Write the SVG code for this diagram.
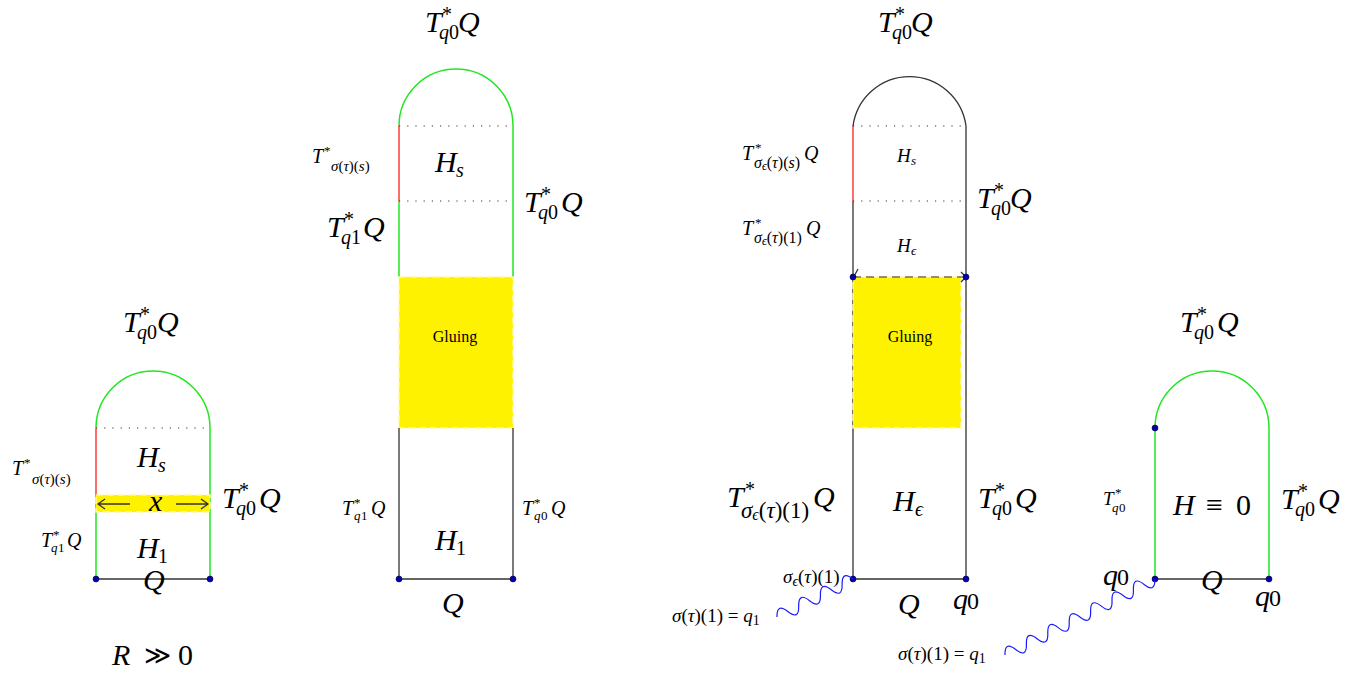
<svg xmlns="http://www.w3.org/2000/svg" width="1370" height="674" viewBox="0 0 1370 674">
<style>
.l{fill:none;stroke:#333;stroke-width:1.3}
.g{fill:none;stroke:#22e622;stroke-width:1.5}
.r{fill:none;stroke:#ff3b3b;stroke-width:1.5}
.dt{fill:none;stroke:#333;stroke-width:1.2;stroke-dasharray:1.2 7}
.y{fill:#fff200;stroke:#fff8a8;stroke-width:1.5;stroke-dasharray:7 4}
.pt{fill:#0000b0;stroke:#000030;stroke-width:0.6}
.w{fill:none;stroke:#1a1aff;stroke-width:1.2}
text{font-family:"Liberation Serif","DejaVu Serif",serif;fill:#000}
.i{font-style:italic}
.u{font-style:normal}
</style>

<!-- Panel 1 -->
<g id="panel1">
  <path class="g" d="M96,428 A57,57 0 0 1 210,428 L210,579"/>
  <path class="r" d="M96,428 L96,495"/>
  <path class="g" d="M96,495 L96,579"/>
  <line class="dt" x1="96" y1="428" x2="210" y2="428"/>
  <rect class="y" x="96" y="495" width="114" height="17"/>
  <path class="l" d="M98,504 L130,504 M105,499 L98,504 L105,509 M176,504 L208,504 M201,499 L208,504 L201,509"/>
  <line class="l" x1="96" y1="579" x2="210" y2="579"/>
  <circle class="pt" cx="96" cy="579" r="3"/>
  <circle class="pt" cx="210" cy="579" r="3"/>
  <text class="i" font-size="30"><tspan x="123" y="332">T</tspan><tspan class="u" x="140" y="321" font-size="20">*</tspan><tspan x="137" y="339" font-size="20">q</tspan><tspan class="u" x="147" y="339" font-size="20">0</tspan><tspan x="157" y="332">Q</tspan></text>
  <text class="i" font-size="30"><tspan x="137" y="467">H</tspan><tspan x="158" y="472" font-size="20">s</tspan></text>
  <text class="i" font-size="20"><tspan x="12" y="475">T</tspan><tspan class="u" x="24" y="467" font-size="13">*</tspan><tspan x="32" y="484" font-size="15">σ</tspan><tspan class="u" font-size="15">(</tspan><tspan font-size="15">τ</tspan><tspan class="u" font-size="15">)(</tspan><tspan font-size="15">s</tspan><tspan class="u" font-size="15">)</tspan></text>
  <text class="i" font-size="30" x="149" y="511">x</text>
  <text class="i" font-size="30"><tspan x="222" y="508">T</tspan><tspan class="u" x="239" y="497" font-size="20">*</tspan><tspan x="236" y="515" font-size="20">q</tspan><tspan class="u" x="246" y="515" font-size="20">0</tspan><tspan x="259" y="508">Q</tspan></text>
  <text class="i" font-size="20"><tspan x="41" y="547">T</tspan><tspan class="u" x="53" y="539" font-size="13">*</tspan><tspan x="51" y="552" font-size="13">q</tspan><tspan class="u" x="58" y="552" font-size="13">1</tspan><tspan x="67" y="547">Q</tspan></text>
  <text class="i" font-size="30"><tspan x="137" y="558">H</tspan><tspan class="u" x="158" y="563" font-size="20">1</tspan></text>
  <text class="i" font-size="30" x="143" y="590">Q</text>
  <text font-size="30"><tspan class="i" x="112" y="665">R</tspan><tspan x="144" y="664" font-size="26">≫</tspan><tspan x="178" y="665">0</tspan></text>
</g>

<!-- Panel 2 -->
<g id="panel2">
  <path class="g" d="M399,126 A57,57 0 0 1 513,126 L513,277"/>
  <path class="r" d="M399,126 L399,201"/>
  <path class="g" d="M399,201 L399,277"/>
  <line class="dt" x1="399" y1="126" x2="513" y2="126"/>
  <line class="dt" x1="399" y1="201" x2="513" y2="201"/>
  <rect class="y" x="399" y="277" width="114" height="151"/>
  <path class="l" d="M399,428 L399,579 L513,579 L513,428"/>
  <circle class="pt" cx="399" cy="579" r="3"/>
  <circle class="pt" cx="513" cy="579" r="3"/>
  <text class="i" font-size="30"><tspan x="425" y="32">T</tspan><tspan class="u" x="442" y="21" font-size="20">*</tspan><tspan x="439" y="39" font-size="20">q</tspan><tspan class="u" x="449" y="39" font-size="20">0</tspan><tspan x="458" y="32">Q</tspan></text>
  <text class="i" font-size="20"><tspan x="312" y="163">T</tspan><tspan class="u" x="324" y="155" font-size="13">*</tspan><tspan x="331" y="171" font-size="15">σ</tspan><tspan class="u" font-size="15">(</tspan><tspan font-size="15">τ</tspan><tspan class="u" font-size="15">)(</tspan><tspan font-size="15">s</tspan><tspan class="u" font-size="15">)</tspan></text>
  <text class="i" font-size="30"><tspan x="435" y="172">H</tspan><tspan x="456" y="177" font-size="20">s</tspan></text>
  <text class="i" font-size="30"><tspan x="524" y="212">T</tspan><tspan class="u" x="541" y="201" font-size="20">*</tspan><tspan x="538" y="219" font-size="20">q</tspan><tspan class="u" x="548" y="219" font-size="20">0</tspan><tspan x="561" y="212">Q</tspan></text>
  <text class="i" font-size="30"><tspan x="327" y="237">T</tspan><tspan class="u" x="344" y="226" font-size="20">*</tspan><tspan x="341" y="244" font-size="20">q</tspan><tspan class="u" x="351" y="244" font-size="20">1</tspan><tspan x="363" y="237">Q</tspan></text>
  <text font-size="16" x="455" y="342" text-anchor="middle">Gluing</text>
  <text class="i" font-size="20"><tspan x="342" y="515">T</tspan><tspan class="u" x="354" y="507" font-size="13">*</tspan><tspan x="354" y="520" font-size="13">q</tspan><tspan class="u" x="361" y="520" font-size="13">1</tspan><tspan x="371" y="515">Q</tspan></text>
  <text class="i" font-size="20"><tspan x="522" y="515">T</tspan><tspan class="u" x="534" y="507" font-size="13">*</tspan><tspan x="534" y="520" font-size="13">q</tspan><tspan class="u" x="541" y="520" font-size="13">0</tspan><tspan x="551" y="515">Q</tspan></text>
  <text class="i" font-size="30"><tspan x="435" y="550">H</tspan><tspan class="u" x="456" y="555" font-size="20">1</tspan></text>
  <text class="i" font-size="30" x="442" y="613">Q</text>
</g>

<!-- Panel 3 -->
<g id="panel3">
  <path class="l" d="M853,126 A57,57 0 0 1 966,126 L966,579 L853,579 L853,201"/>
  <path class="r" d="M853,126 L853,201"/>
  <line class="dt" x1="853" y1="126" x2="966" y2="126"/>
  <line class="dt" x1="853" y1="201" x2="966" y2="201"/>
  <rect class="y" x="853" y="277" width="108" height="151"/>
  <line class="l" x1="853" y1="277" x2="966" y2="277" stroke-dasharray="8 5" stroke-opacity="0.7"/>
  <path class="l" d="M858,269 Q855,275 853,277 M961,272 L966,277 L961,282"/>
  <circle class="pt" cx="853" cy="277" r="3"/>
  <circle class="pt" cx="966" cy="277" r="3"/>
  <circle class="pt" cx="853" cy="579" r="3"/>
  <circle class="pt" cx="966" cy="579" r="3"/>
  <text class="i" font-size="30"><tspan x="878" y="32">T</tspan><tspan class="u" x="895" y="21" font-size="20">*</tspan><tspan x="892" y="39" font-size="20">q</tspan><tspan class="u" x="902" y="39" font-size="20">0</tspan><tspan x="911" y="32">Q</tspan></text>
  <text class="i" font-size="20"><tspan x="742" y="160">T</tspan><tspan class="u" x="755" y="152" font-size="13">*</tspan><tspan x="754" y="168" font-size="16">σ</tspan><tspan font-size="12" dy="2">ϵ</tspan><tspan class="u" font-size="16" dy="-2">(</tspan><tspan font-size="16">τ</tspan><tspan class="u" font-size="16">)(</tspan><tspan font-size="16">s</tspan><tspan class="u" font-size="16">)</tspan><tspan x="804" y="160">Q</tspan></text>
  <text class="i" font-size="19"><tspan x="897" y="162">H</tspan><tspan x="911" y="165" font-size="13">s</tspan></text>
  <text class="i" font-size="30"><tspan x="977" y="208">T</tspan><tspan class="u" x="994" y="197" font-size="20">*</tspan><tspan x="991" y="215" font-size="20">q</tspan><tspan class="u" x="1001" y="215" font-size="20">0</tspan><tspan x="1010" y="208">Q</tspan></text>
  <text class="i" font-size="20"><tspan x="742" y="235">T</tspan><tspan class="u" x="755" y="227" font-size="13">*</tspan><tspan x="754" y="243" font-size="16">σ</tspan><tspan font-size="12" dy="2">ϵ</tspan><tspan class="u" font-size="16" dy="-2">(</tspan><tspan font-size="16">τ</tspan><tspan class="u" font-size="16">)(1)</tspan><tspan x="806" y="235">Q</tspan></text>
  <text class="i" font-size="19"><tspan x="897" y="252">H</tspan><tspan x="911" y="255" font-size="13">ϵ</tspan></text>
  <text font-size="16" x="910" y="342" text-anchor="middle">Gluing</text>
  <text class="i" font-size="30"><tspan x="727" y="507">T</tspan><tspan class="u" x="745" y="496" font-size="20">*</tspan><tspan x="741" y="518" font-size="23">σ</tspan><tspan font-size="16" dy="2">ϵ</tspan><tspan class="u" font-size="23" dy="-2">(</tspan><tspan font-size="23">τ</tspan><tspan class="u" font-size="23">)(1)</tspan><tspan x="813" y="507">Q</tspan></text>
  <text class="i" font-size="30"><tspan x="893" y="511">H</tspan><tspan x="915" y="516" font-size="20">ϵ</tspan></text>
  <text class="i" font-size="30"><tspan x="978" y="508">T</tspan><tspan class="u" x="995" y="497" font-size="20">*</tspan><tspan x="992" y="515" font-size="20">q</tspan><tspan class="u" x="1002" y="515" font-size="20">0</tspan><tspan x="1015" y="508">Q</tspan></text>
  <text class="i" font-size="19"><tspan x="783" y="583">σ</tspan><tspan font-size="14" dy="3">ϵ</tspan><tspan class="u" dy="-3">(</tspan><tspan>τ</tspan><tspan class="u">)(1)</tspan></text>
  <text class="i" font-size="30" x="898" y="614">Q</text>
  <text class="i" font-size="30"><tspan x="953" y="609">q</tspan><tspan class="u" x="967" y="609" font-size="24">0</tspan></text>
  <text class="i" font-size="19"><tspan x="672" y="622">σ</tspan><tspan class="u">(</tspan><tspan>τ</tspan><tspan class="u">)(1) = </tspan><tspan>q</tspan><tspan class="u" font-size="14" dy="3">1</tspan></text>
</g>

<!-- Panel 4 -->
<g id="panel4">
  <path class="g" d="M1155,579 L1155,428 A57,57 0 0 1 1269,428 L1269,579"/>
  <line class="l" x1="1155" y1="579" x2="1269" y2="579"/>
  <circle class="pt" cx="1155" cy="428" r="3"/>
  <circle class="pt" cx="1155" cy="579" r="3"/>
  <circle class="pt" cx="1269" cy="579" r="3"/>
  <text class="i" font-size="30"><tspan x="1180" y="332">T</tspan><tspan class="u" x="1197" y="321" font-size="20">*</tspan><tspan x="1194" y="339" font-size="20">q</tspan><tspan class="u" x="1204" y="339" font-size="20">0</tspan><tspan x="1217" y="332">Q</tspan></text>
  <text class="i" font-size="19"><tspan x="1103" y="505">T</tspan><tspan class="u" x="1115" y="497" font-size="13">*</tspan><tspan x="1112" y="512" font-size="13">q</tspan><tspan class="u" x="1119" y="512" font-size="13">0</tspan></text>
  <text font-size="30"><tspan class="i" x="1173" y="515">H</tspan><tspan x="1206" y="515">≡</tspan><tspan x="1236" y="515">0</tspan></text>
  <text class="i" font-size="30"><tspan x="1281" y="509">T</tspan><tspan class="u" x="1298" y="498" font-size="20">*</tspan><tspan x="1295" y="516" font-size="20">q</tspan><tspan class="u" x="1305" y="516" font-size="20">0</tspan><tspan x="1318" y="509">Q</tspan></text>
  <text class="i" font-size="30"><tspan x="1103" y="585">q</tspan><tspan class="u" x="1117" y="585" font-size="24">0</tspan></text>
  <text class="i" font-size="30" x="1201" y="590">Q</text>
  <text class="i" font-size="30"><tspan x="1255" y="606">q</tspan><tspan class="u" x="1269" y="606" font-size="24">0</tspan></text>
  <text class="i" font-size="19"><tspan x="898" y="660">σ</tspan><tspan class="u">(</tspan><tspan>τ</tspan><tspan class="u">)(1) = </tspan><tspan>q</tspan><tspan class="u" font-size="14" dy="3">1</tspan></text>
</g>

<!-- Connectors -->
<g id="connectors">
  <path class="w" transform="translate(777,617) rotate(-26.6)" d="M0,0 q6.07,-13 12.14,0 t12.14,0 t12.14,0 t12.14,0 t12.14,0 t12.14,0 t12.14,0"/>
  <path class="w" transform="translate(1005,655) rotate(-26.9)" d="M0,0 q6,-13 12,0 t12,0 t12,0 t12,0 t12,0 t12,0 t12,0 t12,0 t12,0 t12,0 t12,0 t12,0 t12,0 t12,0"/>
</g>
</svg>
